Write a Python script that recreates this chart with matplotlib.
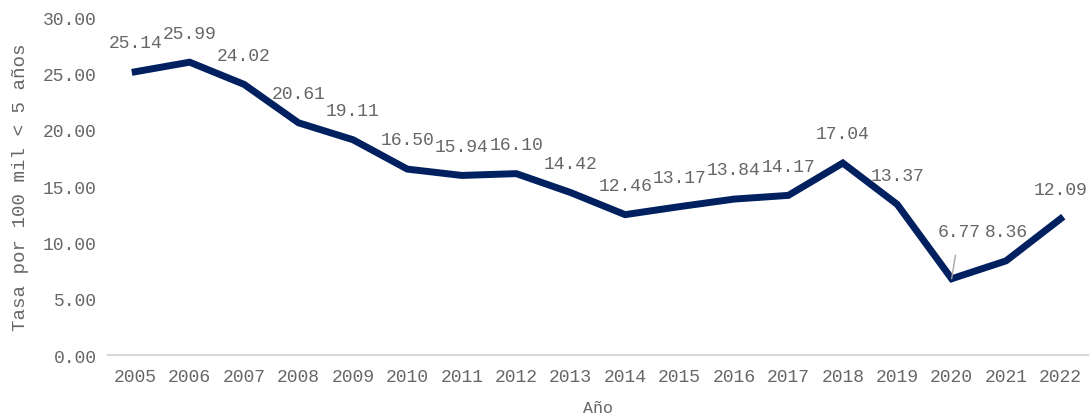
import matplotlib
matplotlib.use("Agg")
import matplotlib.pyplot as plt

years = ["2005", "2006", "2007", "2008", "2009", "2010", "2011", "2012", "2013",
         "2014", "2015", "2016", "2017", "2018", "2019", "2020", "2021", "2022"]
tasa = [25.14, 25.99, 24.02, 20.61, 19.11, 16.50, 15.94, 16.10, 14.42,
        12.46, 13.17, 13.84, 14.17, 17.04, 13.37, 6.77, 8.36, 12.09]

gris = "#666666"
plt.rcParams["font.family"] = ["Liberation Mono", "DejaVu Sans Mono"]

fig = plt.figure(figsize=(10.91, 4.14), dpi=100)
ax = fig.add_axes([0.099, 0.140, 0.898, 0.8165])

x = list(range(len(years)))
ax.plot(x, tasa, color="#002060", lw=5, solid_joinstyle="miter", zorder=3)

for i, v in enumerate(tasa):
    if years[i] == "2020":
        # etiqueta desplazada con linea guia
        ax.annotate(f"{v:.2f}", xy=(i, v), xytext=(5.5, 34), textcoords="offset points",
                    ha="center", va="center", fontsize=13, color=gris,
                    arrowprops=dict(arrowstyle="-", color="#a6a6a6", lw=1,
                                    shrinkA=9, shrinkB=0))
    else:
        ax.annotate(f"{v:.2f}", xy=(i, v), xytext=(0, 21), textcoords="offset points",
                    ha="center", va="center", fontsize=13, color=gris)

ax.set_xlim(-0.5, len(years) - 0.5)
ax.set_ylim(0, 30)
ax.set_xticks(x)
ax.set_xticklabels(years)
ax.set_yticks([0, 5, 10, 15, 20, 25, 30])
ax.set_yticklabels([f"{t:.2f}" for t in [0, 5, 10, 15, 20, 25, 30]])
ax.tick_params(axis="both", length=0, labelsize=13, labelcolor=gris)
ax.tick_params(axis="x", pad=9)
ax.tick_params(axis="y", pad=8)

for s in ["top", "right", "left"]:
    ax.spines[s].set_visible(False)
ax.spines["bottom"].set_color("#d9d9d9")
ax.spines["bottom"].set_linewidth(1.5)

ax.set_xlabel("Año", fontsize=12, color=gris, labelpad=11)
ax.set_ylabel("Tasa por 100 mil < 5 años", fontsize=13.8, color=gris, labelpad=10)

fig.savefig("out.png", dpi=100)
